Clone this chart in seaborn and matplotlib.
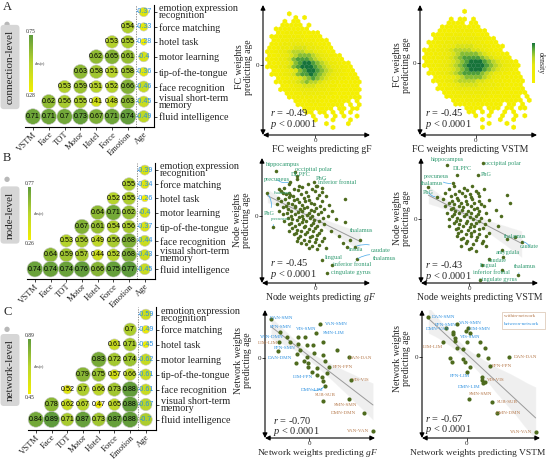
import numpy as np
import pandas as pd
import matplotlib
matplotlib.use("Agg")
import matplotlib.pyplot as plt
import seaborn as sns
from matplotlib.colors import LinearSegmentedColormap, Normalize
from matplotlib.cm import ScalarMappable
from matplotlib.patches import Rectangle

# ======================= DATA =======================
matrix_cols = ["VSTM", "Face", "TOT", "Motor", "Hotel", "Force", "Emotion", "Age"]
matrix_rows = ["emotion expression\nrecognition", "force matching", "hotel task",
               "motor learning", "tip-of-the-tongue", "face recognition",
               "visual short-term\nmemory", "fluid intelligence"]  # top -> bottom

conn_r = [[-0.37],
          [0.54, -0.33],
          [0.53, 0.55, -0.28],
          [0.62, 0.65, 0.61, -0.40],
          [0.63, 0.58, 0.51, 0.58, -0.36],
          [0.53, 0.59, 0.51, 0.52, 0.66, -0.46],
          [0.62, 0.56, 0.55, 0.41, 0.48, 0.63, -0.45],
          [0.71, 0.71, 0.70, 0.73, 0.67, 0.71, 0.74, -0.49]]
node_r = [[-0.39],
          [0.55, -0.34],
          [0.52, 0.55, -0.26],
          [0.64, 0.71, 0.62, -0.40],
          [0.67, 0.61, 0.54, 0.56, -0.37],
          [0.53, 0.56, 0.49, 0.56, 0.68, -0.44],
          [0.64, 0.59, 0.57, 0.44, 0.52, 0.68, -0.43],
          [0.74, 0.74, 0.74, 0.76, 0.66, 0.75, 0.77, -0.45]]
net_r = [[-0.59],
         [0.70, -0.49],
         [0.61, 0.71, -0.45],
         [0.83, 0.72, 0.74, -0.62],
         [0.79, 0.75, 0.57, 0.66, -0.61],
         [0.52, 0.70, 0.66, 0.73, 0.88, -0.61],
         [0.78, 0.62, 0.67, 0.47, 0.65, 0.88, -0.67],
         [0.84, 0.89, 0.71, 0.87, 0.73, 0.87, 0.88, -0.70]]
conn_range = (0.28, 0.75)
node_range = (0.26, 0.77)
net_range = (0.45, 0.89)

# connection-level: binned point density (hex rows, top -> bottom)
fc_gf_density = [
    "........................",
    "........................",
    "......1.................",
    ".......1.1..............",
    ".....1.11...............",
    "....11111.1.............",
    "...11111111.............",
    "...1122221111...........",
    "..112222221111..........",
    "..1122333222111.........",
    "..11233444332111........",
    ".112334555443211........",
    ".1123456665543211.......",
    ".11234567776543211......",
    ".112345788876543211.....",
    ".1123457899876543211....",
    ".11234578999876543211...",
    "..1123457899876543211...",
    "..11234578898765432111..",
    "...1123456787654322111..",
    "...11234567665432211111.",
    "....112345554432211111..",
    "....1122344443322111111.",
    ".....11223333222111111..",
    "......11222222211111111.",
    ".......1112221111111.1..",
    "........11111111111.1.1.",
    ".........1111111.11.11..",
    "..........11.11.1.1.1...",
    "...........1..1.1.1..1..",
    "............1...1...1...",
    "..............1....1....",
    "................1.......",
    "........................",
    "........................",
]
fc_vstm_density = [
    "..........................",
    "..........................",
    "..........1...............",
    "..........................",
    ".......1.11.1.............",
    "......1111.11.............",
    ".....111111111............",
    "....11112222111...........",
    "...1112222222111..........",
    "...11223333332211.........",
    "..1122334444332111........",
    "..11233455554332111.......",
    ".112234566665543211.......",
    ".1122345677776543211......",
    ".11223456788887654321.....",
    ".112234567899987654321....",
    ".1122345678999987654321...",
    "..11234567899987654321....",
    "..112345678888765432111...",
    "...11234567777654322111...",
    "...112345666655432211111..",
    "....1123455554433221111...",
    "....11223444443322111111..",
    ".....1122333333222111111..",
    "......11222222221111111.1.",
    ".......1112222111111111.1.",
    "........11111111111.11.1..",
    "..........1111.111.11.11..",
    "...........11.1.1..1.1....",
    "............1..1..1..1.1..",
    "..............1...1..1....",
    "...............1...1......",
    "..............1......1....",
    "..........................",
    "..........................",
]

# node-level: labelled nodes
node_gf_names = ["hippocampus", "occipital polar", "DLPFC", "PhG", "inferior frontal",
                 "precuneus", "thalamus", "PhG", "precuneus", "thalamus", "insula",
                 "caudate", "thalamus", "lingual", "inferior frontal", "cingulate gyrus"]
node_gf_lx = [-117, -60, -53, -3, 3, -75, -75, -143, -127, 105, 95, 120, 125, 20, 52, 37]
node_gf_ly = [136, 132, 112, 102, 90, 103, 63, 68, -34, -72, -94, -92, -130, -132, -147, -170]
node_gf_x = [-78, -47, -22, 6, -92, -63, -38, -8, 22, -103, -79, -51, -27, -1,
             -88, -67, -41, -22, 12, 33, -112, -91, -78, -55, -34, -19, 6,
             -101, -80, -62, -47, -29, -12, 22, -115, -88, -70, -59, -38, -23, -4, 15, 43,
             -95, -81, -61, -44, -33, -13, 3, 28, -109, -83, -71, -50, -39, -18, -3, 19, 52,
             -95, -72, -61, -40, -25, -8, 8, 38, -81, -69, -48, -36, -16, -2, 23, 63,
             -92, -71, -55, -38, -27, -6, 12, -77, -61, -49, -29, -12, 5, 28,
             -68, -55, -34, -19, -1, 19, -79, -57, -41, -24, -7, 12, 47,
             -63, -45, -31, -9, 7, 73, -51, -33, -15, 3, 27, -55, -41, -18, -1, 22, 83,
             -28, -8, 12, -18, 7, 33, 91, 91, 20, -107, -95, 135, -55]
node_gf_y = [96, 90, 95, 89, 85, 80, 86, 81, 84, 75, 70, 77, 71, 74,
             66, 60, 65, 61, 64, 59, 55, 50, 57, 51, 54, 48, 55,
             45, 40, 47, 41, 44, 38, 45, 35, 30, 36, 30, 34, 28, 36, 31, 34,
             26, 20, 26, 21, 25, 19, 24, 21, 15, 10, 16, 11, 14, 9, 15, 11, 14,
             5, 0, 6, 1, 4, -1, 5, 1, -5, -10, -4, -9, -6, -12, -5, -9,
             -15, -20, -13, -19, -16, -21, -15, -25, -31, -24, -29, -26, -31, -25,
             -35, -41, -34, -39, -36, -41, -45, -50, -44, -49, -46, -51, -45,
             -55, -61, -54, -59, -56, -60, -65, -71, -64, -69, -66, -75, -81, -74, -79, -76, -80,
             -85, -90, -86, -95, -100, -96, 50, -17, 73, 80, 68, -72, 121]

node_vstm_names = ["hippocampus", "occipital polar", "DLPFC", "PhG", "precuneus", "thalamus",
                   "PhG", "thalamus", "caudate", "amygdala", "caudate", "lingual", "thalamus",
                   "inferior frontal", "cingulate gyrus"]
node_vstm_lx = [-66, 40, -36, 27, -50, -123, -98, 112, 157, 97, 102, 37, 147, 97, 32]
node_vstm_ly = [163, 168, 133, 133, 108, 96, 68, -60, -67, -92, -114, -137, -167, -152, -182]
node_vstm_x = [-45, -16, 9, -60, -31, -6, 19, 45, -72, -44, -21, 2, 26,
               -56, -38, -14, 6, 29, 112, -78, -51, -35, -11, 9, 30, 60,
               -61, -45, -24, -6, 14, 35, 122, -72, -48, -31, -18, 4, 22, 45,
               -56, -42, -21, -4, 14, 30, 80, -68, -46, -32, -11, 6, 26, 50,
               -51, -38, -16, 1, 19, 35, 95, -62, -40, -27, -6, 12, 28, 60,
               -46, -32, -11, 6, 20, 46, -60, -34, -20, 1, 15, 42, 85,
               -41, -25, -4, 14, 30, -35, -11, 5, 29, 60, -38, -20, 4, 22, 49,
               -26, -8, 19, 40, -11, 10, 39, -25, 4, 50, -1, 20, 137, 60]
node_vstm_y = [100, 95, 99, 90, 85, 89, 86, 90, 80, 75, 79, 76, 80,
               70, 65, 69, 66, 70, 73, 60, 55, 59, 56, 60, 55, 59,
               50, 46, 49, 45, 50, 46, 48, 40, 35, 39, 36, 40, 35, 39,
               30, 25, 29, 26, 30, 25, 29, 20, 15, 19, 16, 20, 15, 19,
               10, 5, 9, 6, 10, 5, 9, 0, -5, -1, -4, 0, -5, -1,
               -10, -15, -11, -14, -10, -15, -20, -25, -21, -24, -20, -25, -21,
               -30, -35, -31, -34, -30, -40, -45, -41, -44, -40, -50, -55, -51, -54, -50,
               -60, -65, -61, -64, -70, -75, -71, -80, -85, -81, -90, -95, -52, -120]

# network-level: labelled network pairs
net_gf_names = ["DAN-SMN", "FPN-SMN", "VIS-SMN", "VAN-SMN", "SMN-LIM", "VAN-DMN", "LIM-LIM",
                "FPN-SMN", "DAN-DMN", "DAN-DAN", "FPN-FPN", "VIS-VIS", "LIM-FPN", "DMN-LIM",
                "SUB-SUB", "SMN-SMN", "DMN-DMN", "VAN-VAN"]
net_gf_lx = [-114, -87, -12, 33, 21, -65, -89, -32, -92, 121, 61, 126, 23, 48, 43, 121, 165, 192]
net_gf_ly = [116, 76, 63, 100, 75, 61, 48, 40, 20, 1, -27, -68, -52, -84, -129, -124, -167, -220]
net_gf_x = [-32, -5, 13, -37, -7, -2, 43, 48, 83, 23, -2, 38, 43, -39, -15, 43, -57, -27, 15, 8, 53]
net_gf_y = [63, 38, 38, 10, 3, -17, 8, -10, 23, -32, -27, -57, -70, -17, -10, 46, 48, 23, 13, -42, -47]

net_vstm_names = ["DAN-SMN", "FPN-SMN", "VAN-SMN", "DMN-VAN", "LIM-SMN", "VIS-SMN", "LIM-LIM",
                  "DAN-DAN", "FPN-FPN", "FPN-LIM", "VIS-VIS", "DMN-LIM", "SMN-SMN", "SUB-SUB",
                  "DMN-DMN", "VAN-VAN"]
net_vstm_lx = [-115, -42, -28, -40, -2, -35, -72, 128, 70, 0, 45, 55, 7, 75, 90, 207]
net_vstm_ly = [118, 75, 97, 67, 77, 55, 45, -2, -28, -45, -60, -77, -128, -135, -168, -225]
net_vstm_x = [5, 10, -35, 0, 40, 55, -30, -10, -50, -45, -10, -5, 35, 65, 10, 45, 50, -62]
net_vstm_y = [87, 70, 47, 45, 45, 25, 25, 23, -5, -17, -7, -15, 5, -5, -30, -70, -80, 85]

stats = {"fc_gf": ("-0.49", "0.0001"), "fc_vstm": ("-0.45", "0.0001"),
         "node_gf": ("-0.45", "0.0001"), "node_vstm": ("-0.43", "0.0001"),
         "net_gf": ("-0.70", "0.0001"), "net_vstm": ("-0.67", "0.0001")}

# ======================= STYLE / LAYOUT =======================
W, H = 546, 462
sns.set_theme(style="white")
plt.rcParams["font.family"] = ["Liberation Serif", "DejaVu Serif"]
plt.rcParams["mathtext.fontset"] = "custom"
plt.rcParams["mathtext.rm"] = "Liberation Serif"
plt.rcParams["mathtext.it"] = "Liberation Serif:italic"
plt.rcParams["axes.linewidth"] = 0.8

fig = plt.figure(figsize=(W / 100, H / 100), dpi=100, facecolor="white")

corr_cmap = LinearSegmentedColormap.from_list("yg", ["#f3ee00", "#b9d52c", "#5f9b3c"])
dens_cmap = LinearSegmentedColormap.from_list(
    "dens", [(0, "#f4ef00"), (0.45, "#e8e80c"), (0.65, "#b4d32a"), (0.85, "#5aa83a"),
             (1, "#16733a")])
PT = "#4e6b1e"
LAB = "#2f9a70"
LINK = "#45a8e8"
BLUE = "#2a8fe0"
BROWN = "#b5784a"


def px_axes(x0, y0, x1, y1):
    return fig.add_axes([x0 / W, 1 - y1 / H, (x1 - x0) / W, (y1 - y0) / H])


def ftext(x, y, s, **kw):
    return fig.text(x / W, 1 - y / H, s, **kw)


def draw_matrix(box, values, vrange, cbar_box, letter, letter_y, level, level_y, dot_y):
    ax = px_axes(*box)
    lo, hi = vrange
    recs = []
    nrow = len(values)
    for k, row in enumerate(values):
        start = len(matrix_cols) - 1 - k
        for j, v in enumerate(row):
            recs.append(dict(col=start + j, row=nrow - 1 - k, r=v, absr=abs(v)))
    df = pd.DataFrame(recs)
    sns.scatterplot(data=df, x="col", y="row", hue="absr", size="absr",
                    palette=corr_cmap, hue_norm=(lo, hi), sizes=(24, 135),
                    size_norm=(lo, hi), legend=False, edgecolor="#c8c8c8",
                    linewidth=0.4, ax=ax, clip_on=False, zorder=3)
    for rec in recs:
        col = BLUE if rec["r"] < 0 else "black"
        ax.text(rec["col"], rec["row"], "%g" % rec["r"], ha="center", va="center",
                fontsize=5.1, color=col, family=["Liberation Sans"], zorder=4)
    ax.axvline(6.5, color="#7a7a7a", lw=0.6, ls=(0, (1.5, 1.5)), zorder=1)
    ax.set_xlim(-0.5, 7.65)
    ax.set_ylim(-0.7, 7.5)
    ax.set_xlabel("")
    ax.set_ylabel("")
    ax.set_xticks(range(8))
    ax.set_xticklabels(matrix_cols, rotation=45, ha="right", rotation_mode="anchor", fontsize=6.2)
    ax.yaxis.tick_right()
    ax.set_yticks(range(8))
    ax.set_yticklabels(matrix_rows[::-1], fontsize=7.3, linespacing=0.72)
    ax.tick_params(axis="y", right=True, left=False, length=2.5, width=0.6, pad=1.2)
    ax.tick_params(axis="x", bottom=True, length=2, width=0.6, pad=0.5)
    for s in ["left", "top"]:
        ax.spines[s].set_visible(False)
    for s in ["right", "bottom"]:
        ax.spines[s].set_color("black")
        ax.spines[s].set_linewidth(0.8)
    ax.set_facecolor("none")
    # colorbar
    cax = px_axes(*cbar_box)
    cb = fig.colorbar(ScalarMappable(Normalize(lo, hi), corr_cmap), cax=cax)
    cb.set_ticks([])
    cb.outline.set_visible(False)
    cx = (cbar_box[0] + cbar_box[2]) / 2
    ftext(cx, cbar_box[1] - 1, "%.2f" % hi, ha="center", va="bottom", fontsize=4)
    ftext(cx, cbar_box[3] + 1, "%.2f" % lo, ha="center", va="top", fontsize=4)
    ftext(cbar_box[2] + 2.5, (cbar_box[1] + cbar_box[3]) / 2, "abs(r)", ha="left",
          va="center", fontsize=3.2)
    # panel letter, level tag
    ftext(3, letter_y, letter, ha="left", va="center", fontsize=9)
    ftext(7, dot_y, "\u25cf", ha="center", va="center", fontsize=5, color="#b8b8b8",
          family=["DejaVu Sans"])
    ftext(10, level_y, level, rotation=90, ha="center", va="center", fontsize=8,
          bbox=dict(boxstyle="round,pad=0.45,rounding_size=0.3", fc="#d6d6d6", ec="none"))


def axis_arrows(ax):
    for s in ax.spines.values():
        s.set_visible(False)
    kw = dict(arrowstyle="<|-|>", lw=0.8, color="black", shrinkA=0, shrinkB=0, mutation_scale=7)
    ax.annotate("", xy=(1, 0), xytext=(0, 0), xycoords="axes fraction", arrowprops=kw,
                annotation_clip=False)
    ax.annotate("", xy=(0, 1), xytext=(0, 0), xycoords="axes fraction", arrowprops=kw,
                annotation_clip=False)
    ax.set_xticks([0])
    ax.set_yticks([0])
    ax.tick_params(bottom=True, left=True, length=2, width=0.6, labelsize=5, pad=0.5)
    ax.set_facecolor("none")
    ax.grid(False)


def stat_text(x, y, key):
    r, p = stats[key]
    ftext(x, y, "$r$ = " + r, ha="left", va="center", fontsize=7.5)
    ftext(x, y + 11.5, "$p$ < " + p, ha="left", va="center", fontsize=7.5)


def hex_panel(box, rows, x0, y0, xspan, yspan):
    ax = px_axes(*box)
    n = len(rows)
    nx = max(len(r) for r in rows)
    ny = (n - 1) // 2
    xs, ys, cs = [], [], []
    for k, row in enumerate(rows):
        r = n - 1 - k
        for c, ch in enumerate(row):
            if ch.isdigit():
                xs.append(c + 0.5 * (r % 2) - x0)
                ys.append(0.5 * r - y0)
                cs.append(int(ch))
    hb = ax.hexbin(xs, ys, C=cs, gridsize=(nx, ny), extent=(-x0, nx - x0, -y0, ny - y0),
                   reduce_C_function=np.sum, cmap=dens_cmap, vmin=1, vmax=9,
                   linewidths=0.15, edgecolors="face")
    ax.set_xlim(-x0, xspan - x0)
    ax.set_ylim(-y0, yspan - y0)
    axis_arrows(ax)
    return ax, hb


def scatter_panel(box, names, lx, ly, ux, uy, lim, offsets, links, colfn, fs, psize):
    ax = px_axes(*box)
    allx = np.array(lx + ux, float)
    ally = np.array(ly + uy, float)
    sns.regplot(x=allx, y=ally, scatter=False, ax=ax, color="#3a3a3a", seed=3,
                line_kws=dict(color="#9a9a9a", lw=0.7))
    sns.scatterplot(x=allx, y=ally, color=PT, s=psize, linewidth=0, ax=ax, zorder=3)
    for i, (nm, x, y) in enumerate(zip(names, lx, ly)):
        dx, dy = offsets[i]
        arrow = None
        if i in links:
            arrow = dict(arrowstyle="-", color=LINK, lw=0.5, shrinkA=0, shrinkB=1.2,
                         connectionstyle="arc3,rad=0.3")
        f = fs[i] if isinstance(fs, (list, tuple)) else fs
        ax.annotate(nm, (x, y), xytext=(dx * 0.72, dy * 0.72), textcoords="offset points",
                    ha="center", va="center", fontsize=f, color=colfn(nm),
                    arrowprops=arrow, annotation_clip=False, zorder=4)
    ax.set_xlim(lim[0], lim[1])
    ax.set_ylim(lim[2], lim[3])
    ax.set_xlabel("")
    ax.set_ylabel("")
    axis_arrows(ax)
    return ax


# ======================= DRAW =======================
draw_matrix((25, 4.5, 154, 127), conn_r, conn_range, (29, 35, 32.5, 92),
            "A", 7, "connection-level", 67, 24)
draw_matrix((27, 163, 155, 279), node_r, node_range, (28, 187, 31.5, 240),
            "B", 158, "node-level", 215, 179)
draw_matrix((28, 307, 156, 430), net_r, net_range, (28, 339, 31.5, 394),
            "C", 312, "network-level", 370, 329)

# ---- A: hexbin density panels
sx1 = 4.375
axA1, hb1 = hex_panel((263, 5, 370, 135), fc_gf_density, (315 - 263) / sx1,
                      (135 - 65) / (sx1 * np.sqrt(3)), 107 / sx1, 130 / (sx1 * np.sqrt(3)))
sx2 = 4.46
axA2, hb2 = hex_panel((420, 5, 537, 135), fc_vstm_density, (476 - 420) / sx2,
                      (135 - 63) / (sx2 * np.sqrt(3)), 117 / sx2, 130 / (sx2 * np.sqrt(3)))
dcax = px_axes(532, 43, 535, 83)
dcb = fig.colorbar(hb2, cax=dcax)
dcb.set_ticks([])
dcb.outline.set_visible(False)
ftext(541, 63, "density", rotation=270, ha="center", va="center", fontsize=5.5)

ftext(322, 149, "FC weights predicting gF", ha="center", va="center", fontsize=7)
ftext(244, 67, "FC weights\npredicting age", rotation=90, ha="center", va="center",
      fontsize=7, linespacing=1.0)
ftext(470, 149, "FC weights predicting VSTM", ha="center", va="center", fontsize=7)
ftext(402, 65, "FC weights\npredicting age", rotation=90, ha="center", va="center",
      fontsize=7, linespacing=1.0)
stat_text(270, 113, "fc_gf")
stat_text(425, 113, "fc_vstm")

# ---- B: node-level
off_ngf = [(7, 6), (18, 3), (3, 4), (7, 3), (21, 3), (-13, 2), (-7, 2), (2, -20), (8, 8),
           (12, 10), (9, -2), (26, -4), (28, 1), (12, 2), (20, 0), (23, 0)]
fs_ngf = [4.6, 4.6, 4.6, 4.6, 4.6, 4.6, 3.4, 4.4, 3.4, 4.6, 4.2, 4.6, 4.6, 4.6, 4.6, 4.6]
scatter_panel((262, 158, 370, 283), node_gf_names, node_gf_lx, node_gf_ly, node_gf_x, node_gf_y,
              (-159, 165, -201, 174), off_ngf, {5, 7, 8, 11, 12}, lambda n: LAB, fs_ngf, 6.5)
off_nv = [(0, 5), (20, 0), (5, 6), (8, 0), (-16, 7), (4, 4), (-8, 4), (9, 3), (8, -5),
          (6, -3), (-6, -3), (7, 0), (7, 8), (-10, -3), (18, 0)]
scatter_panel((421, 158, 538, 283), node_vstm_names, node_vstm_lx, node_vstm_ly,
              node_vstm_x, node_vstm_y, (-145, 206, -191, 184), off_nv, {4, 6, 8, 12},
              lambda n: LAB, 4.4, 6.5)
ftext(321, 298, "Node weights predicting $gF$", ha="center", va="center", fontsize=7)
ftext(242, 220, "Node weights\npredicting age", rotation=90, ha="center", va="center",
      fontsize=7, linespacing=1.0)
ftext(480, 298, "Node weights predicting VSTM", ha="center", va="center", fontsize=7)
ftext(402, 218, "Node weights\npredicting age", rotation=90, ha="center", va="center",
      fontsize=7, linespacing=1.0)
stat_text(270, 263, "node_gf")
stat_text(425, 265, "node_vstm")


# ---- C: network-level
def net_color(n):
    a, b = n.split("-")
    return BROWN if a == b else BLUE


off_cgf = [(10.3, 1.3), (0.7, 5.7), (1.3, 7.7), (16.3, 0), (17.7, 0), (-15.7, 0), (-11.7, -1),
           (-14, -3.3), (2, -6.7), (10.7, -0.3), (14, 0), (10, 0), (-14.3, -1.7), (-12.7, -4.3),
           (2, 5.7), (-3.7, -6), (-20.3, 0), (-15, 0)]
scatter_panel((265, 310, 375, 438), net_gf_names, net_gf_lx, net_gf_ly, net_gf_x, net_gf_y,
              (-132, 198, -241, 143), off_cgf, {13}, net_color, 3.6, 9)
off_cv = [(15, 0), (-6.7, 6.7), (13.3, 1), (-16, 5.3), (14, 2), (15, 1.7), (-10.3, -5),
          (16.3, 0), (11.7, 0), (-6.7, -4), (14.3, -3.3), (-15.7, -4.3), (11.7, 5), (15, 0),
          (11.7, -0.7), (-15, 0)]
axC2 = scatter_panel((422, 310, 540, 438), net_vstm_names, net_vstm_lx, net_vstm_ly,
                     net_vstm_x, net_vstm_y, (-134, 220, -244, 140), off_cv, set(),
                     net_color, 3.6, 9)
ftext(318, 453, "Network weights predicting $gF$", ha="center", va="center", fontsize=6.8)
ftext(243, 360, "Network weights\npredicting age", rotation=90, ha="center", va="center",
      fontsize=7, linespacing=1.0)
ftext(478, 453, "Network weights predicting VSTM", ha="center", va="center", fontsize=6.8)
ftext(402, 358, "Network weights\npredicting age", rotation=90, ha="center", va="center",
      fontsize=7, linespacing=1.0)
stat_text(273, 420, "net_gf")
stat_text(425, 418, "net_vstm")

# legend box (within / between network)
fig.patches.append(Rectangle((502 / W, 1 - 329 / H), 43 / W, 17 / H, transform=fig.transFigure,
                             fc="white", ec="#d9c2ae", lw=0.5, figure=fig))
ftext(504, 316, "within-network", ha="left", va="center", fontsize=3.6, color=BROWN)
ftext(504, 324, "between-network", ha="left", va="center", fontsize=3.6, color=BLUE)

fig.savefig("out.png", dpi=100, facecolor="white")
